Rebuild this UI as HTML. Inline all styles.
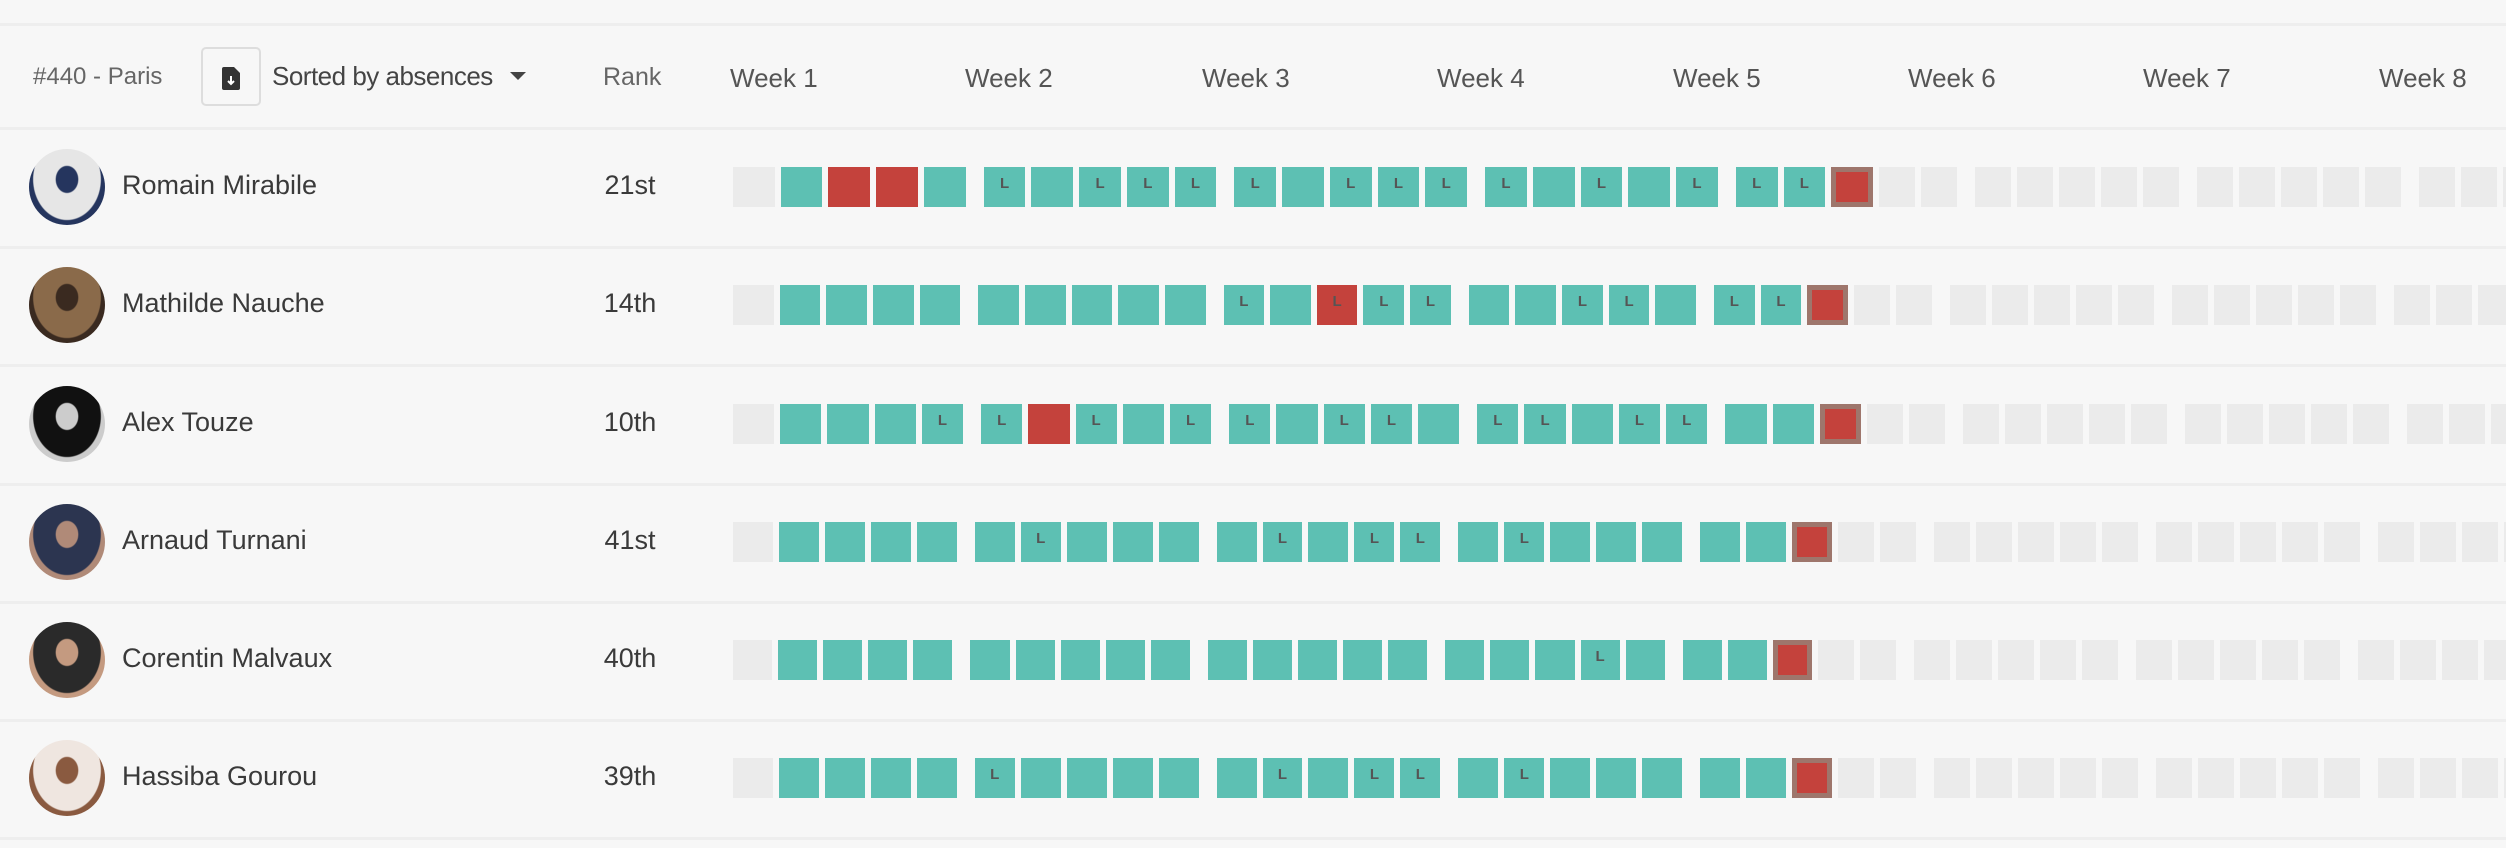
<!DOCTYPE html>
<html><head><meta charset="utf-8">
<style>
html,body{margin:0;padding:0;background:#f7f7f7;width:2506px;height:848px;overflow:hidden;font-family:"Liberation Sans",sans-serif;}
#root{position:relative;width:2506px;height:848px;}
.abs{position:absolute;}
.sep{position:absolute;left:0;width:2506px;height:3px;background:#eeeeee;}
.txt{position:absolute;white-space:nowrap;color:#555;}
.cell{position:absolute;}
</style></head>
<body>
<div id="root">
  <div class="sep" style="top:23px"></div>
  <div class="txt" style="left:33px;top:63px;font-size:24px;color:#666">#440 - Paris</div>
  <div class="abs" style="left:201px;top:47px;width:60px;height:59px;border:2px solid #dddddd;border-radius:5px;background:#f7f7f7;box-sizing:border-box">
    <svg width="56" height="55"><path d="M21 18 h10 l6 6 v15 a2 2 0 0 1 -2 2 h-14 a2 2 0 0 1 -2 -2 v-19 a2 2 0 0 1 2 -2z" fill="#333"/><path d="M28 27 v8 M25 32 l3 3 l3 -3" stroke="#fff" stroke-width="2" fill="none"/></svg>
  </div>
  <div class="txt" style="left:272px;top:61px;font-size:26px;color:#444;letter-spacing:-0.5px">Sorted by absences</div>
  <svg class="abs" style="left:508px;top:70px" width="20" height="12"><path d="M2 2 L18 2 L10 10Z" fill="#444"/></svg>
  <div class="txt" style="left:603px;top:63px;font-size:25px;color:#666">Rank</div>
  <div id="weeks"></div>
  <div id="rows"></div>
</div>
<script>
const weekLabels=["Week 1","Week 2","Week 3","Week 4","Week 5","Week 6","Week 7","Week 8"];
const names=["Romain Mirabile","Mathilde Nauche","Alex Touze","Arnaud Turnani","Corentin Malvaux","Hassiba Gourou"];
const ranks=["21st","14th","10th","41st","40th","39th"];
// g=no class, t=present, l=late, r=absent, L=absent+late, x=today absent
const row0=["g","t","r","r","t","l","t","l","l","l","l","t","l","l","l","l","t","l","t","l","l","l","x"];
const row1=["g","t","t","t","t","t","t","t","t","t","l","t","L","l","l","t","t","l","l","t","l","l","x"];
const row2=["g","t","t","t","l","l","r","l","t","l","l","t","l","l","t","l","l","t","l","l","t","t","x"];
const row3=["g","t","t","t","t","t","l","t","t","t","t","l","t","l","l","t","l","t","t","t","t","t","x"];
const row4=["g","t","t","t","t","t","t","t","t","t","t","t","t","t","t","t","t","t","l","t","t","t","x"];
const row5=["g","t","t","t","t","l","t","t","t","t","t","l","t","l","l","t","l","t","t","t","t","t","x"];
const statuses=[row0,row1,row2,row3,row4,row5];
const avatarColors=[["#e6e6e6","#25355e"],["#8a6a4a","#3a2a20"],["#111","#ccc"],["#2c3550","#b08a78"],["#2a2a2a","#c49a80"],["#efe6e0","#8a5a40"]];

const root=document.getElementById('root');
const weekX=[730,965,1202,1437,1673,1908,2143,2379];
weekLabels.forEach((w,i)=>{
  const d=document.createElement('div');
  d.className='txt';
  d.style.cssText='left:'+weekX[i]+'px;top:63px;font-size:26px;color:#555';
  d.textContent=w;
  
  
  root.appendChild(d);
});
const rowTop=128,rowH=118.2,startX=733,cg=6,gg=12;
const rowEnds=[1873,1848,1861,1832,1812,1832];
const colors={g:"#ebebeb",t:"#5dc0b3",l:"#5dc0b3",r:"#c4423c",L:"#c4423c"};
function sep(y){const s=document.createElement('div');s.className='sep';s.style.top=y+'px';


root.appendChild(s);}
sep(rowTop-1);
statuses.forEach((st,r)=>{
  const top=rowTop+r*rowH;
  const cy=top+rowH/2;
  const row=document.createElement('div');
  
  
  root.appendChild(row);
  const av=document.createElement('div');
  av.className='abs';
  const c=avatarColors[r];
  av.style.cssText='left:29px;top:'+(cy-38)+'px;width:76px;height:76px;border-radius:50%;background:radial-gradient(ellipse at 50% 40%,'+c[1]+' 0 20%,'+c[0]+' 22% 62%,'+c[1]+' 64%)';
  
  
  row.appendChild(av);
  const nm=document.createElement('div');
  nm.className='txt';
  nm.style.cssText='left:122px;top:'+(cy-17)+'px;font-size:27px;color:#3a3a3a';
  nm.textContent=names[r];
  
  
  row.appendChild(nm);
  const rk=document.createElement('div');
  rk.className='txt';
  rk.style.cssText='left:580px;width:100px;text-align:center;top:'+(cy-17)+'px;font-size:27px;color:#3a3a3a';
  rk.textContent=ranks[r];
  
  
  row.appendChild(rk);
  const n=st.length;
  const groups=Math.floor((n-1)/5);
  const w=(rowEnds[r]-startX-(n-1)*cg-groups*gg)/n;
  let x=startX;
  const cTop=cy-20;
  function addCell(s,x,wd){
    const d=document.createElement('div');
    d.className='cell';
    d.style.left=x+'px';d.style.top=cTop+'px';d.style.width=wd+'px';d.style.height='40px';
    if(s==='x'){d.style.background='#c4423c';d.style.boxSizing='border-box';d.style.border='5px solid #9e766c';}
    else d.style.background=colors[s];
    if(s==='l'||s==='L'){d.innerHTML='<span style="position:absolute;left:0;right:0;top:8px;text-align:center;font-size:15px;font-weight:bold;color:#555">L</span>';}
    
    
    row.appendChild(d);
  }
  for(let i=0;i<n;i++){
    addCell(st[i],x,w);
    x+=w+cg;
    if(i%5===4)x+=gg;
  }
  const fw=36,fp=42;
  let idx=n;
  while(x<2520){
    addCell('g',x,fw);
    x+=fp;
    if(idx%5===4)x+=gg;
    idx++;
  }
  sep(Math.round(top+rowH));
});
</script>
</body></html>
